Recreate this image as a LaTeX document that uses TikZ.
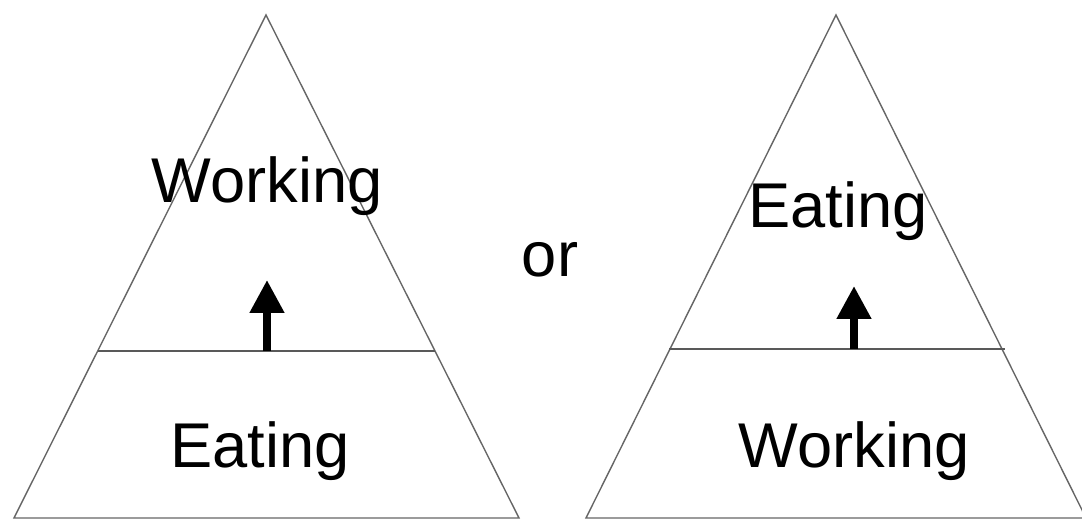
\documentclass[tikz,border=0pt]{standalone}
\usepackage{fontspec}
\setmainfont{Liberation Sans}
\usepackage{tikz}
\usetikzlibrary{arrows.meta, positioning}
\tikzstyle{tri} = [draw=black!60, line width=0.8pt]
\tikzstyle{split} = [draw=black!65, line width=1pt]
\tikzstyle{label} = [anchor=base, inner sep=0pt, font=\fontsize{36}{42}\selectfont]
\tikzstyle{arrow} = [line width=4.4pt, -{Triangle[width=0.66cm,length=0.66cm]}]

\begin{document}
\begin{tikzpicture}[x=0.02cm, y=-0.02cm]
    \useasboundingbox (0,0) rectangle (1082,519);
    % left pyramid
    \draw [tri] (266,15) -- (14,518) -- (519,518) -- cycle;
    \draw [split] (98,351) -- (435,351);
    \node (w1) [label] at (267,203) {Working};
    \node (e1) [label] at (260,468) {Eating};
    \coordinate (l0) at (267,351);
    \coordinate (l1) at (267,280);
    \draw [arrow] (l0) -- (l1);

    \node (or) [label] at (550,277) {or};

    % right pyramid
    \draw [tri] (836,15) -- (586,518) -- (1086,518) -- cycle;
    \draw [split] (669,349) -- (1005,349);
    \node (e2) [label] at (838,228) {Eating};
    \node (w2) [label] at (854,468) {Working};
    \coordinate (r0) at (854,349);
    \coordinate (r1) at (854,286);
    \draw [arrow] (r0) -- (r1);
\end{tikzpicture}
\end{document}
